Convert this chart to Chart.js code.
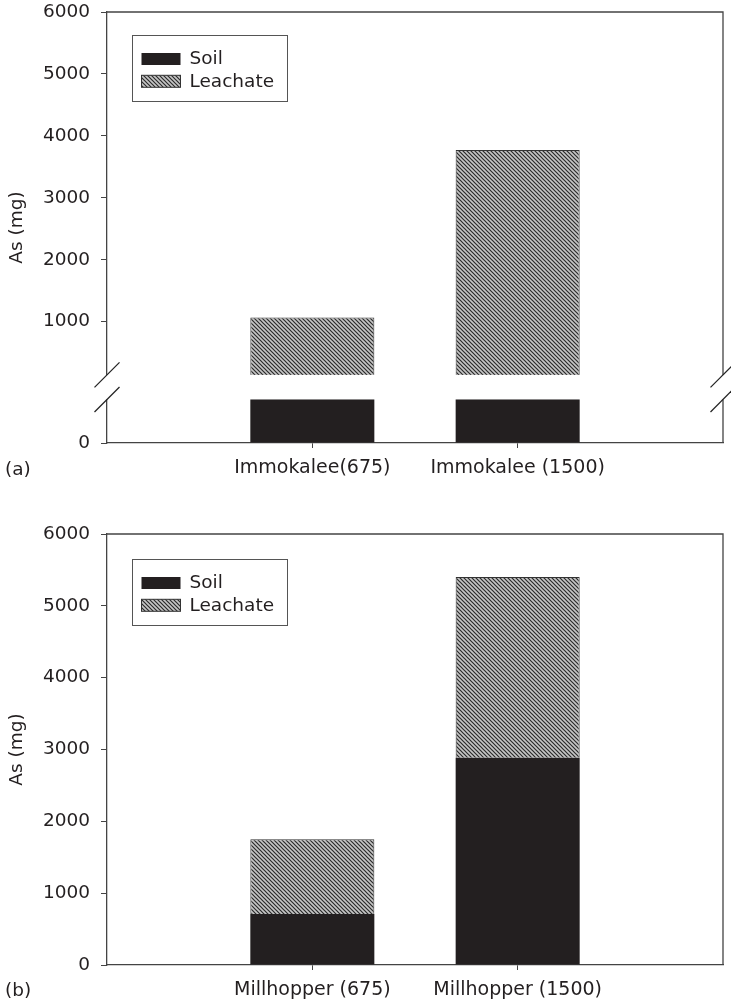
<!DOCTYPE html>
<html>
<head>
<meta charset="utf-8">
<script src="https://cdn.jsdelivr.net/npm/chart.js@4.4.1/dist/chart.umd.min.js"></script>
<style>
  body { margin: 0; background: #fff; }
  .panel { position: absolute; left: 0; width: 731px; }
  .tag { position: absolute; left: 5px; font: 18.5px "DejaVu Sans"; color: #231f20; line-height: 22px; }
</style>
</head>
<body>
<div class="panel" style="top:0;height:490px"><canvas id="chartA"></canvas></div>
<div class="panel" style="top:490px;height:515px"><canvas id="chartB"></canvas></div>
<div class="tag" style="top:458px">(a)</div>
<div class="tag" style="top:979px">(b)</div>
<script>
// valores (As em mg)
const categoriesA = ['Immokalee(675)', 'Immokalee (1500)'];
const soilA = [120, 120];        // topo escondido dentro da quebra do eixo
const leachateA = [945, 3652];
const categoriesB = ['Millhopper (675)', 'Millhopper (1500)'];
const soilB = [710, 2885];
const leachateB = [1040, 2518];
const yTicks = [0, 1000, 2000, 3000, 4000, 5000, 6000];

const ink = '#231f20';
const lineCol = '#444';
Chart.defaults.font.family = 'DejaVu Sans';
Chart.defaults.color = ink;

// padrão hachurado da série Leachate
function hatch() {
  const c = document.createElement('canvas');
  c.width = 4; c.height = 4;
  const g = c.getContext('2d');
  g.fillStyle = '#c6c6c6';
  g.fillRect(0, 0, 4, 4);
  g.strokeStyle = '#2b2b2b';
  g.lineWidth = 1.2;
  g.beginPath();
  g.moveTo(0, 0); g.lineTo(4, 4);
  g.moveTo(-1, 3); g.lineTo(1, 5);
  g.moveTo(3, -1); g.lineTo(5, 1);
  g.stroke();
  return g.createPattern(c, 'repeat');
}
const hatchFill = hatch();

// eixo linear com quebra (0..low em baixo, high..max em cima)
class BrokenScale extends Chart.LinearScale {
  getPixelForValue(value) {
    if (value === null) return NaN;
    const b = this.options.breakAt;
    let dec;
    if (value <= b.low) dec = value / b.low * b.lowFrac;
    else if (value < b.high) dec = b.lowFrac + (value - b.low) / (b.high - b.low) * (b.highFrac - b.lowFrac);
    else dec = b.highFrac + (value - b.high) / (this.max - b.high) * (1 - b.highFrac);
    return this.getPixelForDecimal(dec);
  }
}
BrokenScale.id = 'brokenLinear';
BrokenScale.defaults = Chart.LinearScale.defaults;
Chart.register(BrokenScale);

// caixa da legenda dentro da área do gráfico
const boxLegend = {
  id: 'boxLegend',
  afterDraw(chart, args, opts) {
    const { ctx, chartArea } = chart;
    const x0 = chartArea.left + 25.5, y0 = chartArea.top + opts.dy + 0.5;
    ctx.save();
    ctx.fillStyle = '#fff';
    ctx.fillRect(x0, y0, 155, 66);
    ctx.strokeStyle = '#555';
    ctx.lineWidth = 1;
    ctx.strokeRect(x0, y0, 155, 66);
    chart.data.datasets.forEach((ds, i) => {
      const sy = y0 + 17.5 + i * 22.3;
      ctx.fillStyle = ds.backgroundColor;
      ctx.fillRect(x0 + 9, sy, 39, 12);
      if (ds.borderWidth) {
        ctx.strokeStyle = ds.borderColor;
        ctx.lineWidth = 1;
        ctx.strokeRect(x0 + 9, sy, 39, 12);
      }
      ctx.fillStyle = ink;
      ctx.font = '18.5px "DejaVu Sans"';
      ctx.textBaseline = 'middle';
      ctx.fillText(ds.label, x0 + 57, sy + 6.5);
    });
    ctx.restore();
  }
};

// moldura superior e direita
const frame = {
  id: 'frame',
  beforeDatasetsDraw(chart) {
    const { ctx, chartArea: a } = chart;
    ctx.save();
    ctx.strokeStyle = lineCol;
    ctx.lineWidth = 1.3;
    ctx.beginPath();
    ctx.moveTo(a.left, a.top);
    ctx.lineTo(a.right, a.top);
    ctx.lineTo(a.right, a.bottom);
    ctx.stroke();
    ctx.restore();
  }
};

// faixa branca e traços diagonais da quebra do eixo
const axisBreak = {
  id: 'axisBreak',
  afterDatasetsDraw(chart) {
    const { ctx, chartArea: a, scales } = chart;
    const y = scales.y, b = y.options.breakAt;
    const yLow = y.getPixelForValue(b.low), yHigh = y.getPixelForValue(b.high);
    ctx.save();
    ctx.fillStyle = '#fff';
    ctx.fillRect(a.left - 2, yHigh, a.right - a.left + 4, yLow - yHigh);
    ctx.strokeStyle = '#222';
    ctx.lineWidth = 1.2;
    [a.left, a.right].forEach(x => {
      [yHigh, yLow].forEach(yy => {
        ctx.beginPath();
        ctx.moveTo(x - 12.5, yy + 12.5);
        ctx.lineTo(x + 12.5, yy - 12.5);
        ctx.stroke();
      });
    });
    ctx.restore();
  }
};

function makeChart(id, cats, soil, leach, yType, padTop, xHeight, legendDy, extra) {
  const labels = ['', ...cats, ''];
  const yScale = {
    type: yType,
    stacked: true,
    min: 0,
    max: 6000,
    afterBuildTicks: s => { s.ticks = yTicks.map(v => ({ value: v })); },
    afterFit: s => { s.width = 107; s.paddingTop = 0; s.paddingBottom = 0; },
    border: { display: true, color: lineCol, width: 1.3 },
    grid: { drawOnChartArea: false, drawTicks: true, tickLength: 6, color: lineCol },
    ticks: { padding: 11, font: { size: 18.5 }, color: ink, callback: v => String(v) },
    title: { display: true, text: 'As (mg)', font: { size: 18.5 }, color: ink, padding: { top: 6, bottom: 0 } }
  };
  if (yType === 'brokenLinear') yScale.breakAt = { low: 100, high: 140, lowFrac: 0.101, highFrac: 0.158 };
  return new Chart(document.getElementById(id), {
    type: 'bar',
    data: {
      labels: labels,
      datasets: [
        {
          label: 'Soil',
          data: cats.map((c, i) => ({ x: c, y: soil[i] })),
          backgroundColor: ink,
          borderWidth: 0,
          categoryPercentage: 1,
          barPercentage: 0.604
        },
        {
          label: 'Leachate',
          data: cats.map((c, i) => ({ x: c, y: leach[i] })),
          backgroundColor: hatchFill,
          borderColor: '#333',
          borderWidth: 1,
          categoryPercentage: 1,
          barPercentage: 0.604
        }
      ]
    },
    options: {
      responsive: true,
      maintainAspectRatio: false,
      animation: false,
      layout: { padding: { top: padTop, right: 8, left: 0, bottom: 0 } },
      plugins: {
        legend: { display: false },
        tooltip: { enabled: false },
        boxLegend: { dy: legendDy }
      },
      scales: {
        x: {
          stacked: true,
          offset: false,
          afterBuildTicks: s => { s.ticks = s.ticks.filter(t => labels[t.value] !== ''); },
          afterFit: s => { s.height = xHeight; },
          border: { display: true, color: lineCol, width: 1.3 },
          grid: { offset: false, drawOnChartArea: false, drawTicks: true, tickLength: 5, color: lineCol },
          ticks: { autoSkip: false, maxRotation: 0, padding: 9, font: { size: 19 }, color: ink }
        },
        y: yScale
      }
    },
    plugins: [frame, boxLegend, ...extra]
  });
}

makeChart('chartA', categoriesA, soilA, leachateA, 'brokenLinear', 12, 47, 23, [axisBreak]);
makeChart('chartB', categoriesB, soilB, leachateB, 'linear', 44, 40, 25, []);
</script>
</body>
</html>
